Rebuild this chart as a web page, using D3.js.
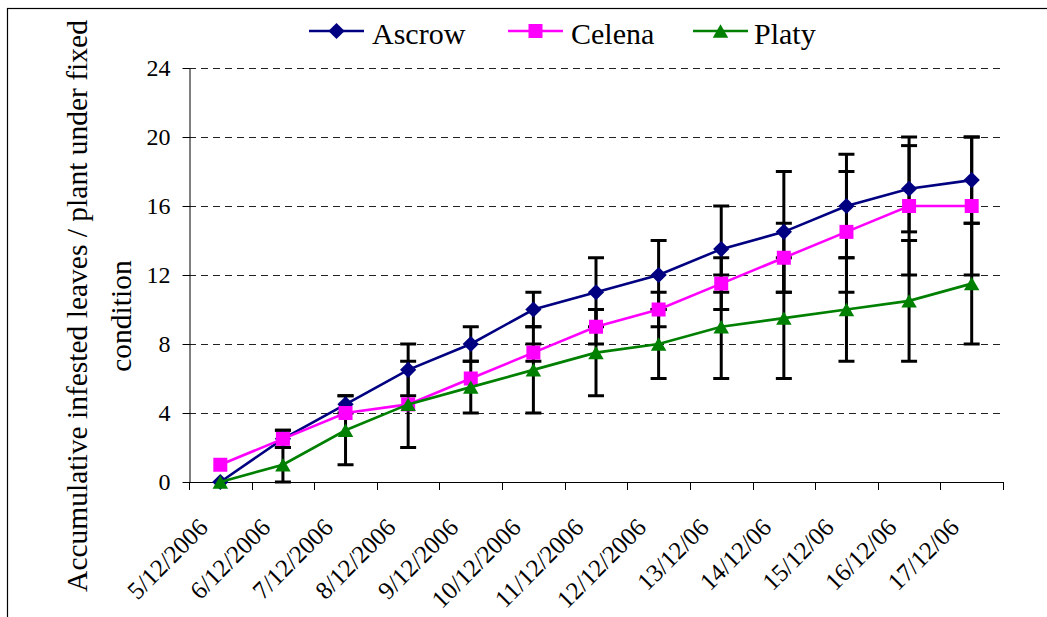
<!DOCTYPE html>
<html>
<head>
<meta charset="utf-8">
<script src="https://cdn.jsdelivr.net/npm/d3@7"></script>
<style>
  html, body { margin: 0; padding: 0; background: #fff; }
  svg { display: block; }
  text { font-family: "Liberation Serif", "Times New Roman", serif; fill: #000; }
</style>
</head>
<body>
<svg id="chart" width="1047" height="617"></svg>
<script>
// Sampling dates
const categories = ["5/12/2006", "6/12/2006", "7/12/2006", "8/12/2006", "9/12/2006",
  "10/12/2006", "11/12/2006", "12/12/2006", "13/12/06", "14/12/06", "15/12/06",
  "16/12/06", "17/12/06"];

// Mean accumulative infested leaves per plant, with error-bar bounds
const ascrow     = [0, 2.5, 4.5, 6.5, 8, 10, 11, 12, 13.5, 14.5, 16, 17, 17.5];
const ascrowLow  = [0, 2, 4, 5, 7, 9, 9, 10, 11, 11, 13, 14.5, 15];
const ascrowHigh = [0, 3, 5, 8, 9, 11, 13, 14, 16, 18, 19, 19.5, 20];

const celena     = [1, 2.5, 4, 4.5, 6, 7.5, 9, 10, 11.5, 13, 14.5, 16, 16];
const celenaLow  = [1, 2, 4, 4.5, 6, 7, 8, 9, 10, 11, 11, 12, 12];
const celenaHigh = [1, 3, 4, 4.5, 6, 8, 10, 11, 13, 15, 18, 20, 20];

const platy      = [0, 1, 3, 4.5, 5.5, 6.5, 7.5, 8, 9, 9.5, 10, 10.5, 11.5];
const platyLow   = [0, 0, 1, 2, 4, 4, 5, 6, 6, 6, 7, 7, 8];
const platyHigh  = [0, 2, 5, 7, 7, 9, 10, 10, 12, 13, 13, 14, 15];

const yTicks = [0, 4, 8, 12, 16, 20, 24];
const seriesNames = ["Ascrow", "Celena", "Platy"];

const svg = d3.select("#chart");

// Outer frame
svg.append("rect")
  .attr("x", 7.5).attr("y", 8.5)
  .attr("width", 1100).attr("height", 700)
  .attr("fill", "none").attr("stroke", "#000").attr("stroke-width", 1.2);

const plot = { left: 189, right: 1003, top: 68, bottom: 482 };

const x = d3.scaleBand().domain(categories).range([plot.left, plot.right]).padding(0);
const y = d3.scaleLinear().domain([0, 24]).range([plot.bottom, plot.top]);

// Triangle marker centred on its bounding box
const triangleType = {
  draw(ctx, size) {
    const s = Math.sqrt(size * 4 / Math.sqrt(3));
    const h = s * Math.sqrt(3) / 2;
    ctx.moveTo(0, -h / 2);
    ctx.lineTo(s / 2, h / 2);
    ctx.lineTo(-s / 2, h / 2);
    ctx.closePath();
  }
};

const series = [
  { name: seriesNames[0], values: ascrow, low: ascrowLow, high: ascrowHigh, color: "#000080",
    symbol: d3.symbol(d3.symbolSquare, 132)(), rotate: 45 },
  { name: seriesNames[1], values: celena, low: celenaLow, high: celenaHigh, color: "#FF00FF",
    symbol: d3.symbol(d3.symbolSquare, 196)(), rotate: 0 },
  { name: seriesNames[2], values: platy, low: platyLow, high: platyHigh, color: "#008000",
    symbol: d3.symbol(triangleType, 104)(), rotate: 0 }
];

// Horizontal dashed gridlines
svg.append("g")
  .selectAll("line")
  .data(yTicks.filter(t => t > 0))
  .join("line")
  .attr("x1", plot.left).attr("x2", plot.right)
  .attr("y1", d => Math.round(y(d)) + 0.5).attr("y2", d => Math.round(y(d)) + 0.5)
  .attr("stroke", "#222").attr("stroke-width", 1)
  .attr("stroke-dasharray", "7,5");

// Y axis
const yAxis = svg.append("g")
  .attr("transform", `translate(${plot.left + 0.5},0)`)
  .call(d3.axisLeft(y).tickValues(yTicks).tickFormat(d3.format("d"))
    .tickSize(7).tickSizeOuter(0).tickPadding(12));
yAxis.select(".domain").attr("stroke", "#000");
yAxis.selectAll(".tick line").attr("stroke", "#000");
yAxis.selectAll(".tick text")
  .style("font-family", '"Liberation Serif", "Times New Roman", serif')
  .style("font-size", "24px").attr("fill", "#000");

// X axis line with ticks at category boundaries
const xAxis = svg.append("g");
xAxis.append("line")
  .attr("x1", plot.left).attr("x2", plot.right)
  .attr("y1", plot.bottom + 0.5).attr("y2", plot.bottom + 0.5)
  .attr("stroke", "#000");
const boundaries = categories.map(c => x(c)).concat([x.range()[1]]);
xAxis.selectAll("line.tick")
  .data(boundaries)
  .join("line")
  .attr("class", "tick")
  .attr("x1", d => Math.round(d) + 0.5).attr("x2", d => Math.round(d) + 0.5)
  .attr("y1", plot.bottom).attr("y2", plot.bottom + 8)
  .attr("stroke", "#000");

// Rotated category labels
xAxis.selectAll("text")
  .data(categories)
  .join("text")
  .attr("transform", d => `translate(${x(d) + x.bandwidth() / 2 - 11},${plot.bottom + 47}) rotate(-45)`)
  .attr("text-anchor", "end")
  .style("font-size", "25px")
  .text(d => d);

// Error bars
const capHalf = 8;
const errG = svg.append("g").attr("stroke", "#000").attr("stroke-width", 3);
series.forEach(s => {
  const bars = categories.map((c, i) => ({ c, lo: s.low[i], hi: s.high[i] }))
    .filter(d => d.hi > d.lo);
  const g = errG.append("g");
  g.selectAll("line.v").data(bars).join("line").attr("class", "v")
    .attr("x1", d => x(d.c) + x.bandwidth() / 2).attr("x2", d => x(d.c) + x.bandwidth() / 2)
    .attr("y1", d => y(d.lo)).attr("y2", d => y(d.hi));
  g.selectAll("line.hi").data(bars).join("line").attr("class", "hi")
    .attr("x1", d => x(d.c) + x.bandwidth() / 2 - capHalf).attr("x2", d => x(d.c) + x.bandwidth() / 2 + capHalf)
    .attr("y1", d => y(d.hi)).attr("y2", d => y(d.hi));
  g.selectAll("line.lo").data(bars).join("line").attr("class", "lo")
    .attr("x1", d => x(d.c) + x.bandwidth() / 2 - capHalf).attr("x2", d => x(d.c) + x.bandwidth() / 2 + capHalf)
    .attr("y1", d => y(d.lo)).attr("y2", d => y(d.lo));
});

// Series lines and markers
const line = d3.line()
  .x((d, i) => x(categories[i]) + x.bandwidth() / 2)
  .y(d => y(d));

series.forEach(s => {
  svg.append("path")
    .datum(s.values)
    .attr("d", line)
    .attr("fill", "none")
    .attr("stroke", s.color)
    .attr("stroke-width", 2.6);
  svg.append("g")
    .selectAll("path")
    .data(s.values)
    .join("path")
    .attr("d", s.symbol)
    .attr("transform", (d, i) => `translate(${x(categories[i]) + x.bandwidth() / 2},${y(d)}) rotate(${s.rotate})`)
    .attr("fill", s.color);
});

// Legend
const legendItems = [
  { lineX: 309, textX: 372 },
  { lineX: 508, textX: 571 },
  { lineX: 693, textX: 754 }
];
const legendY = 31;
const legend = svg.append("g");
series.forEach((s, i) => {
  const li = legendItems[i];
  legend.append("line")
    .attr("x1", li.lineX).attr("x2", li.lineX + 55)
    .attr("y1", legendY).attr("y2", legendY)
    .attr("stroke", s.color).attr("stroke-width", 2.6);
  legend.append("path")
    .attr("d", s.symbol)
    .attr("transform", `translate(${li.lineX + 27.5},${legendY}) rotate(${s.rotate})`)
    .attr("fill", s.color);
  legend.append("text")
    .attr("x", li.textX).attr("y", 43.5)
    .style("font-size", "30px")
    .text(s.name);
});

// Y axis title (two lines, rotated)
const title = svg.append("g").style("font-size", "29.5px");
title.append("text")
  .attr("transform", "translate(87,306) rotate(-90)")
  .attr("text-anchor", "middle")
  .text("Accumulative infested leaves / plant under fixed");
title.append("text")
  .attr("transform", "translate(130.5,316) rotate(-90)")
  .attr("text-anchor", "middle")
  .text("condition");
</script>
</body>
</html>
